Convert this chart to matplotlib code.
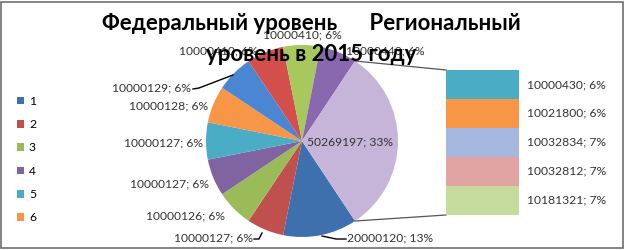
import matplotlib
matplotlib.use("Agg")
import matplotlib.pyplot as plt
from matplotlib.patches import Rectangle, Patch
import numpy as np

# ---- data ----
categories = ["1", "2", "3", "4", "5", "6", "7", "8", "9", "10"]
primary_values = [20000120, 10000127, 10000126, 10000127, 10000127,
                  10000128, 10000129, 10000410, 10000410, 10000440]
primary_pct = [13, 6, 6, 6, 6, 6, 6, 6, 6, 6]
secondary_values = [10000430, 10021800, 10032834, 10032812, 10181321]
secondary_pct = [6, 6, 7, 7, 7]
other_pct = 33
title = "Федеральный уровень      Региональный\nуровень в 2015 году"

# ---- styles ----
primary_colors = ["#3F70AE", "#C0504D", "#9BBB59", "#8064A2", "#4BACC6",
                  "#F79646", "#4A86D2", "#D24F4C", "#A6C85C", "#8A68B0"]
secondary_colors = ["#4BACC6", "#F79646", "#A7B8E0", "#E2A3A3", "#C5DC9C"]
other_color = "#C7B5D9"

W, H = 624, 250
FONT = "Lato"
plt.rcParams["font.family"] = [FONT, "DejaVu Sans"]

fig = plt.figure(figsize=(W / 100, H / 100), dpi=100)
ax = fig.add_axes([0, 0, 1, 1])

def Y(y):
    return H - y

other_value = sum(secondary_values)
total = sum(primary_values) + other_value
other_deg = other_value / total * 360.0
start = -other_deg / 2.0

cx, cy, R = 302, Y(141), 96
wedges, _ = ax.pie(primary_values + [other_value],
                   colors=primary_colors + [other_color],
                   startangle=start, counterclock=False,
                   center=(cx, cy), radius=R, frame=True,
                   wedgeprops=dict(linewidth=0))
ax.set_xlim(0, W)
ax.set_ylim(0, H)
ax.set_aspect("auto")
ax.axis("off")

LFS = 8.7
lab_kw = dict(fontsize=LFS, color="#333333", ha="center", va="center")

# primary labels (image-pixel centers)
label_xy = [(390, 238), (213, 238), (186, 216), (170, 184), (163, 143),
            (169, 106), (152, 88), (218, 51), (302, 35), (385, 51)]
for v, p, (lx, ly) in zip(primary_values, primary_pct, label_xy):
    ax.text(lx, Y(ly), f"{v}; {p}%", zorder=5, **lab_kw)
ax.text(350, Y(142), f"{other_value}; {other_pct}%", zorder=5, **lab_kw)

# leader lines
lk = dict(color="black", lw=1.0, zorder=4)
ax.plot([322, 336, 346], [Y(236), Y(239), Y(239)], **lk)
ax.plot([254, 259, 262], [Y(239), Y(239), Y(233)], **lk)
ax.plot([193, 199, 233], [Y(89), Y(88), Y(75)], **lk)

# bar of the "other" slice
bx0, bx1, by0, by1 = 446, 519, 215, 70
bax = fig.add_axes([bx0 / W, Y(by0) / H, (bx1 - bx0) / W, (by0 - by1) / H])
bottom = 0
for v, p, c in zip(secondary_values[::-1], secondary_pct[::-1],
                   secondary_colors[::-1]):
    bax.bar(0, v, bottom=bottom, width=1.0, color=c, linewidth=0)
    bax.text(0.5 + 8 / (bx1 - bx0), bottom + v / 2, f"{v}; {p}%",
             fontsize=LFS, color="#333333", ha="left", va="center",
             clip_on=False)
    bottom += v
bax.set_xlim(-0.5, 0.5)
bax.set_ylim(0, other_value)
bax.axis("off")

# connector lines
a1 = np.deg2rad(other_deg / 2)
ax.plot([cx + R * np.cos(a1), bx0], [cy + R * np.sin(a1), Y(by1)],
        color="#555555", lw=0.9, zorder=1)
ax.plot([cx + R * np.cos(-a1), bx0], [cy + R * np.sin(-a1), Y(by0)],
        color="#555555", lw=0.9, zorder=1)

# title
ax.text(311, Y(39), title, fontsize=16, fontweight="bold", color="black",
        ha="center", va="center", linespacing=1.55, zorder=6)

# legend (first six entries visible)
handles = [Patch(facecolor=c, edgecolor="none") for c in primary_colors[:6]]
fig.legend(handles, categories[:6], loc="upper left",
           bbox_to_anchor=(12 / W, Y(91) / H), frameon=False,
           fontsize=8.7, handlelength=0.6, handleheight=0.6,
           handletextpad=0.4, labelspacing=1.02, borderaxespad=0)

# chart border
fig.patches.append(Rectangle((0.5 / W, 2 / H), (W - 2) / W, (H - 4) / H,
                             transform=fig.transFigure, fill=False,
                             edgecolor="#6e6e6e", lw=1.2))

fig.savefig("out.png", dpi=100)
